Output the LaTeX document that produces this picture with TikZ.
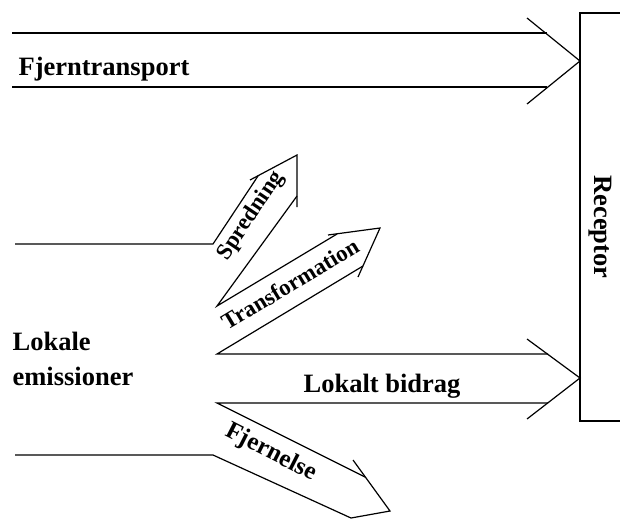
\documentclass[tikz,border=0pt]{standalone}
\usepackage{fontspec}
\setmainfont{Liberation Serif}
\begin{document}
\begin{tikzpicture}
  [
  x=1pt, y=-1pt, line width=1.2pt, line join=miter,
  textnode/.style={inner sep=0pt, font=\fontsize{26.5}{30}\selectfont\bfseries},
  tiltnode/.style={inner sep=0pt, font=\fontsize{23}{28}\selectfont\bfseries},
  ]

\useasboundingbox (0,0) rectangle (620,520);

% receptor box
\draw (622,13) -- (580,13) -- (580,421) -- (622,421);
\node[textnode, rotate=-90] (receptor) at (600,227) {Receptor};

% fjerntransport
\draw (12,33) -- (547,33);
\draw (12,87) -- (547,87);
\draw (527,18) -- (580,61) -- (527,104);
\node[textnode, anchor=base west] (fjern) at (18,75) {Fjerntransport};

% spredning
\draw (15,244) -- (213,244) -- (258,176);
\draw (250,180) -- (297,155) -- (297,207);
\draw (297,196) -- (217,306) -- (337,234);
\node[tiltnode, rotate=56] (spredning) at (251,216) {Spredning};

% transformation
\draw (328,235) -- (380,228) -- (358,277);
\draw (363,266) -- (217,354) -- (548,354);
\node[tiltnode, rotate=31] (trans) at (290,284) {Transformation};

% lokalt bidrag
\draw (527,339) -- (580,378) -- (527,419);
\draw (548,403) -- (217,403) -- (365,477);
\node[textnode, anchor=base] (bidrag) at (382,392) {Lokalt bidrag};

% fjernelse
\draw (353,460) -- (390,511) -- (351,518) -- (213,455) -- (15,455);
\node[tiltnode, font=\fontsize{25}{28}\selectfont\bfseries, rotate=-27] (fjernelse) at (271,453) {Fjernelse};

\node[textnode, anchor=base west] (lokale) at (12,350) {Lokale};
\node[textnode, anchor=base west] (emission) at (12,385) {emissioner};
\end{tikzpicture}
\end{document}
